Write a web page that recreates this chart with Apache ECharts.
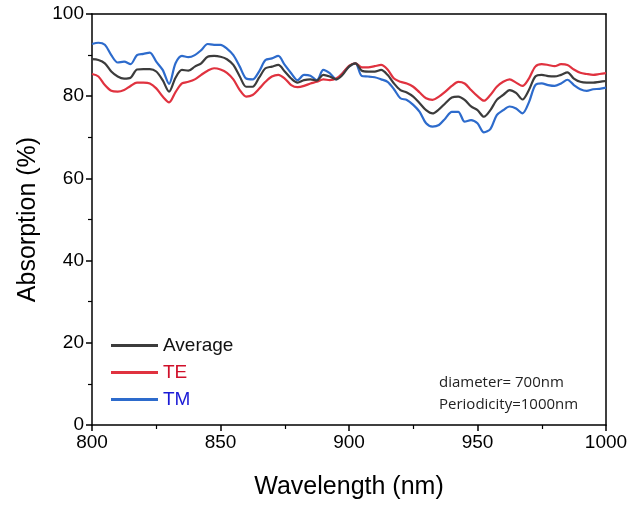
<!DOCTYPE html>
<html>
<head>
<meta charset="utf-8">
<script src="https://cdn.jsdelivr.net/npm/echarts@6/dist/echarts.min.js"></script>
<style>
  html, body { margin: 0; padding: 0; background: #fff; }
  #chart { width: 629px; height: 505px; }
</style>
</head>
<body>
<div id="chart"></div>
<script>
// wavelength grid (nm), read every 2.5 nm
var wavelength = [800,802.5,805,807.5,810,812.5,815,817.5,820,822.5,825,827.5,830,832.5,835,837.5,840,842.5,845,847.5,
  850,852.5,855,857.5,860,862.5,865,867.5,870,872.5,875,877.5,880,882.5,885,887.5,890,892.5,895,897.5,
  900,902.5,905,907.5,910,912.5,915,917.5,920,922.5,925,927.5,930,932.5,935,937.5,940,942.5,945,947.5,
  950,952.5,955,957.5,960,962.5,965,967.5,970,972.5,975,977.5,980,982.5,985,987.5,990,992.5,995,997.5,1000];

var average = [89.0,88.8,88.0,86.0,84.8,84.3,84.5,86.5,86.6,86.6,86.0,83.9,81.1,84.5,86.4,86.2,87.2,88.0,89.6,89.8,
  89.6,89.0,87.6,84.8,82.3,82.3,84.5,86.8,87.2,87.6,86.0,84.3,83.3,83.9,84.1,83.8,85.2,84.8,84.1,85.2,
  87.2,88.0,86.2,86.0,86.0,86.4,85.2,83.1,81.5,80.9,79.9,78.3,76.6,75.8,76.8,78.3,79.7,79.9,79.1,77.5,
  76.6,75.0,76.6,79.1,80.3,81.5,80.8,79.2,81.5,84.8,85.2,84.9,84.8,85.2,85.8,84.3,83.5,83.3,83.3,83.5,83.7];

var te = [85.4,84.8,82.7,81.3,81.1,81.5,82.5,83.3,83.3,83.1,81.9,79.9,78.5,81.0,83.1,83.5,84.1,85.2,86.2,86.8,
  86.5,85.7,84.1,81.5,79.9,80.3,81.8,83.5,84.8,85.2,84.3,82.7,82.2,82.5,83.1,83.5,84.1,83.9,84.3,85.6,
  87.4,88.0,87.0,87.0,87.3,87.6,86.5,84.3,83.5,83.1,82.3,80.9,79.5,79.1,79.9,81.1,82.5,83.5,83.1,81.5,
  80.0,78.9,80.3,82.3,83.5,84.1,83.3,82.5,84.3,87.2,87.8,87.6,87.3,87.8,87.6,86.5,85.7,85.4,85.2,85.4,85.6];

var tm = [92.7,93.0,92.5,90.0,88.2,88.4,87.8,90.0,90.3,90.6,88.4,86.4,83.0,88.0,89.8,89.5,90.0,91.2,92.7,92.5,
  92.5,91.6,90.0,87.2,84.3,84.1,86.0,88.8,89.2,89.8,87.6,85.6,83.9,85.2,85.0,83.9,86.4,85.6,84.1,85.6,
  87.2,88.0,84.9,84.8,84.6,84.1,83.5,81.7,79.5,79.1,77.9,76.2,73.4,72.6,73.0,74.6,76.2,76.2,73.8,74.2,
  73.4,71.2,72.0,75.4,76.6,77.5,77.0,75.8,78.5,82.7,83.1,82.7,82.5,83.1,84.0,82.7,81.7,81.3,81.7,81.8,82.1];

var seriesNames = ['Average', 'TE', 'TM'];
var lineColors = ['#3c3c3c', '#e0323f', '#2d6bcc'];
var textColors = ['#111111', '#d0102a', '#1a1ad6'];

function pairs(vals){
    var out = []
    for (var i = 0; i < wavelength.length; i++) {
        out.push([wavelength[i], vals[i]])
    }
    return out
}

var font = 'Liberation Sans, Arial, sans-serif'
var myChart = echarts.init(document.getElementById('chart'));

var allVals = [average, te, tm]
var series = []
for (var k = 0; k < 3; k++) {
    series.push({
        name: seriesNames[k],
        type: 'line',
        data: pairs(allVals[k]),
        showSymbol: false,
        smooth: 0.3,
        lineStyle: { color: lineColors[k], width: 2.2 },
        itemStyle: { color: lineColors[k] },
        z: 3 - k
    })
}

var option = {
    animation: false,
    backgroundColor: '#fff',
    grid: { left: 92, right: 23, top: 14, bottom: 80, outerBoundsMode: 'none', containLabel: false },
    legend: {
        orient: 'vertical',
        left: 106,
        top: 331,
        itemGap: 8,
        itemWidth: 47,
        itemHeight: 3,
        icon: 'rect',
        textStyle: { fontFamily: font, fontSize: 19 },
        data: seriesNames.map(function (n, i) {
            return { name: n, textStyle: { color: textColors[i] } }
        })
    },
    graphic: [{
        type: 'text',
        left: 439,
        top: 372,
        style: {
            text: 'diameter= 700nm\nPeriodicity=1000nm',
            fontFamily: 'Open Sans, sans-serif',
            fontSize: 15,
            lineHeight: 22,
            fill: '#222'
        }
    }],
    xAxis: [{
        type: 'value',
        min: 800, max: 1000, interval: 50,
        name: 'Wavelength (nm)',
        nameLocation: 'middle',
        nameGap: 50,
        nameTextStyle: { fontFamily: font, fontSize: 25, color: '#000' },
        axisLine: { lineStyle: { color: '#000', width: 1.5 } },
        axisTick: { inside: false, length: 6, lineStyle: { color: '#000', width: 1.5 } },
        minorTick: { show: true, splitNumber: 2, length: 4, lineStyle: { color: '#000', width: 1.2 } },
        axisLabel: { fontFamily: font, fontSize: 19, color: '#000', margin: 8,
            formatter: function (v) { return String(v) } },
        splitLine: { show: false }
    }, {
        type: 'value', position: 'top',
        min: 800, max: 1000,
        axisLine: { show: true, onZero: false, lineStyle: { color: '#000', width: 1.5 } },
        axisTick: { show: false }, axisLabel: { show: false }, splitLine: { show: false }
    }],
    yAxis: [{
        type: 'value',
        min: 0, max: 100, interval: 20,
        name: 'Absorption (%)',
        nameLocation: 'middle',
        nameGap: 51,
        nameTextStyle: { fontFamily: font, fontSize: 25, color: '#000' },
        axisLine: { show: true, lineStyle: { color: '#000', width: 1.5 } },
        axisTick: { show: true, length: 6, lineStyle: { color: '#000', width: 1.5 } },
        minorTick: { show: true, splitNumber: 2, length: 4, lineStyle: { color: '#000', width: 1.2 } },
        axisLabel: { fontFamily: font, fontSize: 19, color: '#000', margin: 8 },
        splitLine: { show: false }
    }, {
        type: 'value', position: 'right',
        min: 0, max: 100,
        axisLine: { show: true, onZero: false, lineStyle: { color: '#000', width: 1.5 } },
        axisTick: { show: false }, axisLabel: { show: false }, splitLine: { show: false }
    }],
    series: series
};

myChart.setOption(option);
</script>
</body>
</html>
